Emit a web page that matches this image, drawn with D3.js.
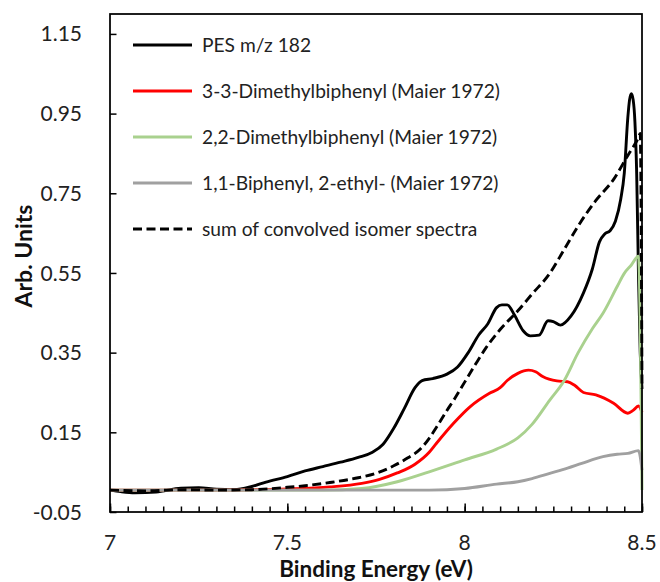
<!DOCTYPE html>
<html>
<head>
<meta charset="utf-8">
<script src="https://cdn.jsdelivr.net/npm/d3@7/dist/d3.min.js"></script>
<style>
  html, body { margin: 0; padding: 0; background: #fff; }
  svg { display: block; }
</style>
</head>
<body>
<svg id="chart" width="660" height="582"></svg>
<script>
// ---------------- DATA ----------------
const xTicks = [7, 7.5, 8, 8.5];
const xTickLabels = ["7", "7.5", "8", "8.5"];
const yTicks = [-0.05, 0.15, 0.35, 0.55, 0.75, 0.95, 1.15];
const yTickLabels = ["-0.05", "0.15", "0.35", "0.55", "0.75", "0.95", "1.15"];

const seriesNames = [
  "PES m/z 182",
  "3-3-Dimethylbiphenyl (Maier 1972)",
  "2,2-Dimethylbiphenyl (Maier 1972)",
  "1,1-Biphenyl, 2-ethyl- (Maier 1972)",
  "sum of convolved isomer spectra"
];

const pesX = [7.00, 7.03, 7.07, 7.13, 7.20, 7.25, 7.30, 7.35, 7.40, 7.44, 7.50, 7.55, 7.60, 7.65, 7.70, 7.74, 7.77, 7.80, 7.83, 7.86, 7.88, 7.91, 7.95, 7.98, 8.01, 8.04, 8.065, 8.09, 8.105, 8.12, 8.14, 8.165, 8.185, 8.21, 8.235, 8.25, 8.27, 8.30, 8.335, 8.36, 8.38, 8.395, 8.41, 8.425, 8.44, 8.45, 8.46, 8.465, 8.47, 8.475, 8.48, 8.485, 8.49, 8.495, 8.50];
const pesY = [0.005, 0.001, -0.002, 0.000, 0.010, 0.011, 0.007, 0.006, 0.014, 0.025, 0.039, 0.053, 0.064, 0.075, 0.087, 0.100, 0.120, 0.160, 0.210, 0.262, 0.280, 0.285, 0.296, 0.314, 0.350, 0.395, 0.422, 0.463, 0.470, 0.470, 0.445, 0.405, 0.392, 0.394, 0.430, 0.428, 0.419, 0.442, 0.500, 0.560, 0.628, 0.648, 0.656, 0.680, 0.735, 0.800, 0.940, 0.985, 1.000, 0.985, 0.930, 0.800, 0.550, 0.350, 0.260];

const dmb33X = [7.00, 7.30, 7.40, 7.50, 7.62, 7.71, 7.76, 7.81, 7.86, 7.90, 7.92, 7.97, 8.015, 8.07, 8.10, 8.12, 8.15, 8.18, 8.20, 8.22, 8.26, 8.29, 8.31, 8.335, 8.37, 8.42, 8.46, 8.475, 8.49, 8.50];
const dmb33Y = [0.005, 0.005, 0.006, 0.008, 0.013, 0.022, 0.032, 0.048, 0.070, 0.100, 0.122, 0.174, 0.214, 0.248, 0.262, 0.280, 0.298, 0.306, 0.302, 0.290, 0.279, 0.277, 0.268, 0.250, 0.244, 0.223, 0.198, 0.205, 0.216, 0.200];

const dmb22X = [7.00, 7.60, 7.71, 7.81, 7.90, 8.00, 8.09, 8.15, 8.19, 8.24, 8.28, 8.32, 8.36, 8.39, 8.43, 8.45, 8.47, 8.49, 8.50];
const dmb22Y = [0.005, 0.005, 0.009, 0.026, 0.051, 0.081, 0.108, 0.136, 0.170, 0.231, 0.279, 0.350, 0.410, 0.449, 0.516, 0.549, 0.570, 0.592, 0.005];

const ethylX = [7.00, 7.90, 8.00, 8.09, 8.15, 8.19, 8.24, 8.29, 8.33, 8.39, 8.43, 8.46, 8.49, 8.50];
const ethylY = [0.005, 0.005, 0.009, 0.020, 0.026, 0.034, 0.047, 0.060, 0.072, 0.089, 0.095, 0.097, 0.104, 0.055];

const sumX = [7.00, 7.10, 7.20, 7.30, 7.40, 7.50, 7.55, 7.62, 7.70, 7.75, 7.80, 7.84, 7.875, 7.90, 7.92, 7.95, 7.97, 8.00, 8.03, 8.06, 8.10, 8.15, 8.19, 8.24, 8.28, 8.325, 8.37, 8.42, 8.46, 8.49, 8.495, 8.50];
const sumY = [0.005, 0.003, 0.006, 0.005, 0.006, 0.012, 0.016, 0.024, 0.036, 0.047, 0.066, 0.086, 0.108, 0.135, 0.162, 0.205, 0.232, 0.276, 0.320, 0.362, 0.408, 0.455, 0.497, 0.549, 0.608, 0.675, 0.732, 0.785, 0.845, 0.890, 0.900, 0.260];

// ---------------- CHART ----------------
const svg = d3.select("#chart");
const L = 110, R = 642, T = 14, B = 512;
const x = d3.scaleLinear().domain([7, 8.5]).range([L, R]);
const y = d3.scaleLinear().domain([-0.05, 1.2]).range([B, T]);
const FONT = "Lato, 'Open Sans', sans-serif";

const series = [
  { name: seriesNames[0], xs: pesX, ys: pesY, color: "#000000", dash: null },
  { name: seriesNames[1], xs: dmb33X, ys: dmb33Y, color: "#ff0000", dash: null },
  { name: seriesNames[2], xs: dmb22X, ys: dmb22Y, color: "#a9d18e", dash: null },
  { name: seriesNames[3], xs: ethylX, ys: ethylY, color: "#a0a0a0", dash: null },
  { name: seriesNames[4], xs: sumX, ys: sumY, color: "#000000", dash: "9,4.5" }
];

svg.append("defs").append("clipPath").attr("id", "clip")
  .append("rect").attr("x", L).attr("y", T).attr("width", R - L + 2).attr("height", B - T);

const line = d3.line().x(d => x(d[0])).y(d => y(d[1])).curve(d3.curveMonotoneX);

const g = svg.append("g").attr("clip-path", "url(#clip)");
series.forEach(s => {
  const pts = s.xs.map((v, i) => [v, s.ys[i]]);
  g.append("path")
    .attr("d", line(pts))
    .attr("fill", "none")
    .attr("stroke", s.color)
    .attr("stroke-width", 2.9)
    .attr("stroke-linejoin", "round")
    .attr("stroke-dasharray", s.dash);
});

// Axes: ticks inside
const xMinor = d3.range(0, 31).map(i => 7 + i * 0.05);
const xAxisMinor = d3.axisBottom(x).tickValues(xMinor).tickSize(-5.5).tickFormat("");
const xAxisMajor = d3.axisBottom(x).tickValues(xTicks).tickSize(-8.5).tickFormat("");
const yAxis = d3.axisLeft(y).tickValues(yTicks).tickSize(-6.5).tickFormat("");

[xAxisMinor, xAxisMajor].forEach(ax => {
  const a = svg.append("g").attr("transform", `translate(0,${B})`).call(ax);
  a.select(".domain").remove();
  a.selectAll(".tick line").attr("stroke", "#000").attr("stroke-width", 1.5);
});
const ya = svg.append("g").attr("transform", `translate(${L},0)`).call(yAxis);
ya.select(".domain").remove();
ya.selectAll(".tick line").attr("stroke", "#000").attr("stroke-width", 1.5);

// Plot border
svg.append("rect").attr("x", L).attr("y", T).attr("width", R - L).attr("height", B - T)
  .attr("fill", "none").attr("stroke", "#000").attr("stroke-width", 1.75);

// Tick labels
svg.append("g").selectAll("text").data(xTicks).join("text")
  .attr("x", d => x(d)).attr("y", 550)
  .attr("text-anchor", "middle")
  .attr("font-family", FONT).attr("font-size", 21).attr("fill", "#222")
  .text((d, i) => xTickLabels[i]);

svg.append("g").selectAll("text").data(yTicks).join("text")
  .attr("x", 82).attr("y", d => y(d))
  .attr("dy", "0.36em")
  .attr("text-anchor", "end")
  .attr("font-family", FONT).attr("font-size", 21).attr("fill", "#222")
  .text((d, i) => yTickLabels[i]);

// Axis titles
svg.append("text").attr("x", 376).attr("y", 577)
  .attr("text-anchor", "middle").attr("font-family", FONT).attr("font-weight", "bold")
  .attr("font-size", 22.5).attr("fill", "#111").text("Binding Energy (eV)");

svg.append("text").attr("transform", "translate(32,256) rotate(-90)")
  .attr("text-anchor", "middle").attr("font-family", FONT).attr("font-weight", "bold")
  .attr("font-size", 23).attr("fill", "#111").text("Arb. Units");

// Legend
const legY = [45, 91, 137, 183, 229];
const leg = svg.append("g");
series.forEach((s, i) => {
  leg.append("line").attr("x1", 133).attr("x2", 192).attr("y1", legY[i]).attr("y2", legY[i])
    .attr("stroke", s.color).attr("stroke-width", 2.9).attr("stroke-dasharray", s.dash);
  leg.append("text").attr("x", 202).attr("y", legY[i]).attr("dy", "0.36em")
    .attr("font-family", FONT).attr("font-size", 19.2).attr("fill", "#222").text(s.name);
});
</script>
</body>
</html>
